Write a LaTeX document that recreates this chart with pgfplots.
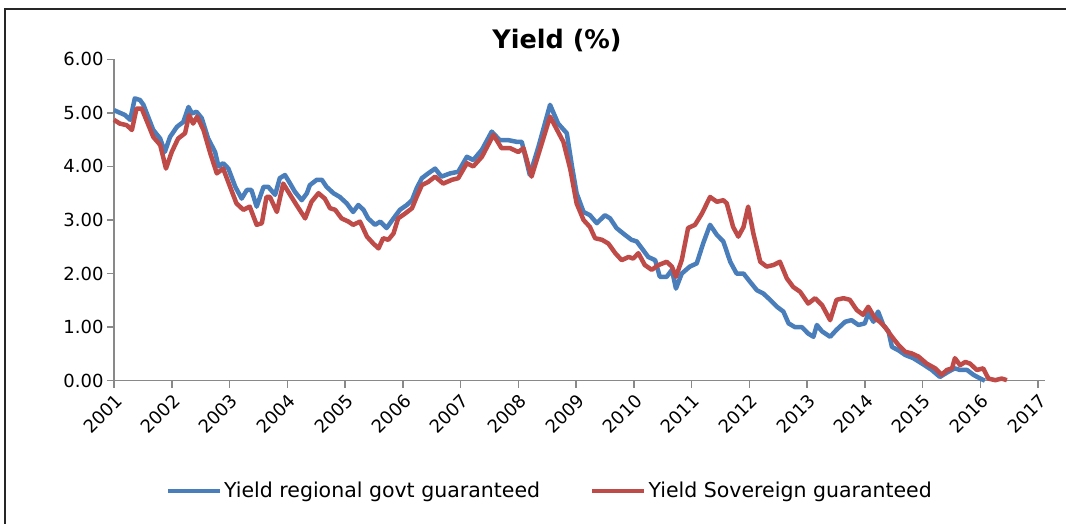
\documentclass[border=0pt]{standalone}
\usepackage{fontspec}
\setmainfont{DejaVu Sans}
\usepackage{pgfplots}
\pgfplotsset{compat=1.18}
\definecolor{sblue}{HTML}{4A7EBB}
\definecolor{sred}{HTML}{BE4B48}
\definecolor{axgray}{HTML}{898989}

\begin{document}
\begin{tikzpicture}[x=1pt,y=1pt]
\useasboundingbox (0,0) rectangle (1066,524);
\draw[line width=2pt, black!85] (5,0) -- (5,515) -- (1066,515);
\node[font=\fontsize{25.5}{28}\selectfont\bfseries] at (557,483) {Yield (\%)};
\begin{axis}[
  at={(114pt,143.3pt)}, anchor=south west,
  scale only axis, width=931pt, height=321.4pt,
  xmin=2001, xmax=2017.12, ymin=0, ymax=6,
  axis x line*=bottom, axis y line*=left,
  axis line style={axgray, line width=1.5pt},
  tick style={axgray, line width=1.5pt},
  tick align=outside, major tick length=7pt,
  xtick={2001,2002,2003,2004,2005,2006,2007,2008,2009,2010,2011,2012,2013,2014,2015,2016,2017},
  xticklabels={2001,2002,2003,2004,2005,2006,2007,2008,2009,2010,2011,2012,2013,2014,2015,2016,2017},
  ytick={0,1,2,3,4,5,6},
  /pgf/number format/assume math mode=true,
  xticklabel style={rotate=45, anchor=north east, font=\fontsize{18}{20}\selectfont},
  yticklabel style={/pgf/number format/.cd, fixed, fixed zerofill, precision=2, /tikz/.cd, font=\fontsize{18}{20}\selectfont},
  clip=false,
  legend columns=2,
  legend style={at={(0.468,-0.343)}, anchor=center, draw=none, fill=none,
    font=\fontsize{20.5}{23}\selectfont,
    /tikz/every even column/.append style={column sep=48pt}},
  legend image code/.code={\draw[#1] (0pt,0pt) -- (52pt,0pt);},
  every axis plot/.append style={line width=4.5pt, line join=round},
]
\addplot[sblue] coordinates {
(2001.00,5.05) (2001.19,4.96) (2001.28,4.87) (2001.36,5.27) (2001.45,5.24) (2001.51,5.15)
(2001.68,4.68) (2001.80,4.52) (2001.88,4.27) (2001.97,4.55) (2002.09,4.74) (2002.20,4.83)
(2002.29,5.11) (2002.35,4.99) (2002.43,5.02) (2002.52,4.90) (2002.63,4.52) (2002.75,4.27)
(2002.81,4.00) (2002.89,4.06) (2002.98,3.96) (2003.10,3.62) (2003.21,3.40) (2003.30,3.56)
(2003.38,3.56) (2003.47,3.25) (2003.59,3.62) (2003.67,3.62) (2003.79,3.47) (2003.87,3.78)
(2003.96,3.84) (2004.05,3.68) (2004.13,3.53) (2004.25,3.37) (2004.34,3.50) (2004.39,3.65)
(2004.51,3.75) (2004.60,3.75) (2004.68,3.62) (2004.80,3.50) (2004.91,3.43) (2005.03,3.31)
(2005.14,3.15) (2005.23,3.28) (2005.32,3.19) (2005.40,3.03) (2005.52,2.91) (2005.61,2.97)
(2005.72,2.85) (2005.84,3.03) (2005.95,3.19) (2006.07,3.28) (2006.16,3.37) (2006.24,3.59)
(2006.33,3.78) (2006.44,3.87) (2006.56,3.96) (2006.67,3.81) (2006.82,3.87) (2006.96,3.90)
(2007.11,4.18) (2007.22,4.12) (2007.37,4.31) (2007.54,4.65) (2007.68,4.49) (2007.83,4.49)
(2007.97,4.46) (2008.06,4.46) (2008.20,3.84) (2008.35,4.37) (2008.55,5.15) (2008.69,4.80)
(2008.84,4.62) (2008.93,4.00) (2009.01,3.50) (2009.13,3.15) (2009.24,3.09) (2009.36,2.94)
(2009.50,3.09) (2009.59,3.03) (2009.70,2.85) (2009.85,2.72) (2009.96,2.63) (2010.05,2.60)
(2010.14,2.47) (2010.25,2.31) (2010.37,2.25) (2010.45,1.94) (2010.57,1.94) (2010.66,2.07)
(2010.73,1.72) (2010.83,2.00) (2010.97,2.13) (2011.09,2.19) (2011.20,2.56) (2011.32,2.91)
(2011.44,2.72) (2011.55,2.60) (2011.67,2.22) (2011.78,2.00) (2011.90,2.00) (2012.01,1.85)
(2012.13,1.69) (2012.24,1.63) (2012.36,1.51) (2012.48,1.38) (2012.59,1.29) (2012.68,1.07)
(2012.79,1.00) (2012.91,1.00) (2013.02,0.88) (2013.11,0.82) (2013.17,1.04) (2013.26,0.92)
(2013.40,0.82) (2013.51,0.95) (2013.66,1.10) (2013.77,1.13) (2013.89,1.04) (2014.00,1.07)
(2014.06,1.26) (2014.15,1.10) (2014.23,1.29) (2014.32,1.04) (2014.41,0.92) (2014.47,0.63)
(2014.58,0.57) (2014.70,0.48) (2014.84,0.42) (2014.99,0.32) (2015.16,0.20) (2015.30,0.07)
(2015.45,0.17) (2015.56,0.23) (2015.65,0.20) (2015.77,0.20) (2015.88,0.11) (2016.00,0.04)
(2016.08,0.00)
};
\addlegendentry{Yield regional govt guaranteed}
\addplot[sred] coordinates {
(2001.00,4.87) (2001.10,4.80) (2001.22,4.77) (2001.31,4.68) (2001.39,5.08) (2001.48,5.08)
(2001.68,4.55) (2001.80,4.40) (2001.90,3.96) (2002.00,4.27) (2002.11,4.52) (2002.23,4.62)
(2002.30,4.96) (2002.37,4.80) (2002.44,4.93) (2002.55,4.68) (2002.66,4.27) (2002.78,3.87)
(2002.89,3.96) (2003.01,3.62) (2003.12,3.31) (2003.24,3.19) (2003.35,3.25) (2003.47,2.91)
(2003.56,2.94) (2003.64,3.43) (2003.70,3.43) (2003.82,3.15) (2003.93,3.68) (2004.05,3.47)
(2004.16,3.28) (2004.31,3.03) (2004.42,3.34) (2004.54,3.50) (2004.65,3.40) (2004.74,3.22)
(2004.83,3.19) (2004.94,3.03) (2005.06,2.97) (2005.14,2.91) (2005.26,2.97) (2005.38,2.69)
(2005.49,2.56) (2005.58,2.47) (2005.66,2.66) (2005.75,2.63) (2005.84,2.75) (2005.92,3.03)
(2006.04,3.12) (2006.16,3.22) (2006.24,3.43) (2006.33,3.65) (2006.44,3.71) (2006.56,3.81)
(2006.70,3.68) (2006.85,3.75) (2006.96,3.78) (2007.11,4.06) (2007.22,4.00) (2007.37,4.18)
(2007.57,4.59) (2007.71,4.34) (2007.86,4.34) (2008.00,4.27) (2008.09,4.34) (2008.23,3.81)
(2008.55,4.93) (2008.78,4.46) (2008.90,3.95) (2009.01,3.31) (2009.13,3.00) (2009.24,2.87)
(2009.33,2.66) (2009.45,2.63) (2009.56,2.56) (2009.68,2.38) (2009.79,2.25) (2009.91,2.31)
(2009.99,2.28) (2010.08,2.38) (2010.19,2.16) (2010.31,2.07) (2010.43,2.16) (2010.57,2.22)
(2010.66,2.13) (2010.73,1.94) (2010.83,2.25) (2010.94,2.85) (2011.06,2.91) (2011.18,3.12)
(2011.32,3.43) (2011.44,3.34) (2011.55,3.37) (2011.61,3.31) (2011.72,2.87) (2011.81,2.69)
(2011.90,2.87) (2011.98,3.25) (2012.07,2.75) (2012.19,2.22) (2012.30,2.13) (2012.42,2.16)
(2012.53,2.22) (2012.65,1.91) (2012.76,1.75) (2012.88,1.66) (2013.02,1.44) (2013.14,1.54)
(2013.26,1.41) (2013.40,1.13) (2013.51,1.51) (2013.63,1.54) (2013.74,1.51) (2013.86,1.32)
(2013.97,1.23) (2014.06,1.38) (2014.18,1.16) (2014.26,1.10) (2014.35,1.00) (2014.47,0.82)
(2014.58,0.67) (2014.70,0.54) (2014.81,0.51) (2014.93,0.45) (2015.07,0.32) (2015.22,0.23)
(2015.33,0.11) (2015.42,0.20) (2015.51,0.23) (2015.56,0.42) (2015.65,0.29) (2015.74,0.35)
(2015.82,0.32) (2015.94,0.20) (2016.05,0.23) (2016.14,0.04) (2016.26,0.01) (2016.37,0.04)
(2016.46,0.01)
};
\addlegendentry{Yield Sovereign guaranteed}
\end{axis}
\end{tikzpicture}
\end{document}
